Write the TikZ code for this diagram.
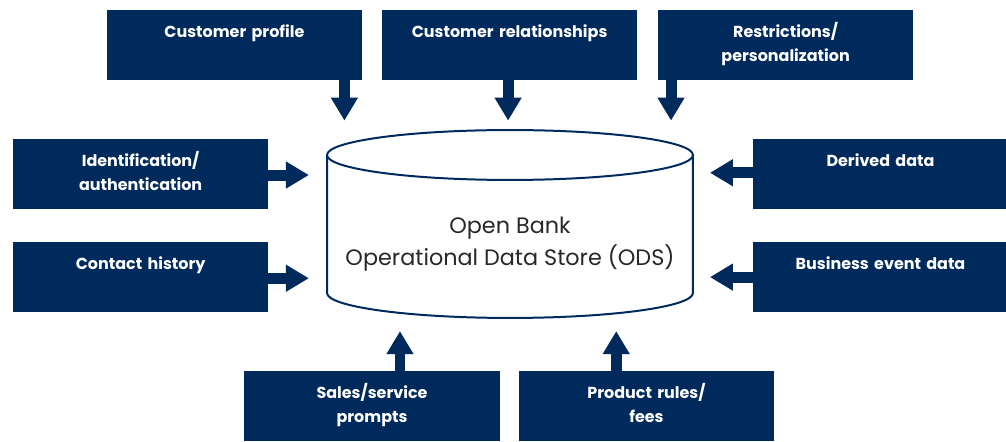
\documentclass[tikz,border=0pt]{standalone}
\usepackage{fontspec}
\setmainfont{Poppins}
\usetikzlibrary{arrows.meta,positioning}

\definecolor{navy}{RGB}{0,42,92}
\definecolor{inkgray}{RGB}{40,40,40}

\begin{document}
\begin{tikzpicture}[
  every node/.style={font=\fontsize{12}{18}\selectfont},
  feedbox/.style={rectangle, fill=navy, text=white, font=\bfseries\fontsize{12}{18}\selectfont,
    minimum width=6.75cm, minimum height=1.85cm, text width=6.5cm, align=center,
    inner ysep=0pt, text height=20.5pt, text depth=32pt},
  feed/.style={navy, line width=8.25pt,
    -{Triangle[width=20.5pt, length=17pt, line width=0pt]}},
  store/.style={draw=navy, line width=1.5pt, fill=white}
]
  \useasboundingbox (0,0) rectangle (26.61,-11.67);

  % data store in the middle
  \draw[store] (8.65,-4.10) -- (8.65,-7.75)
    arc[start angle=180, end angle=360, x radius=4.84cm, y radius=0.66cm]
    -- (18.33,-4.10);
  \draw[store] (13.49,-4.10) ellipse [x radius=4.84cm, y radius=0.66cm];
  \node[text=inkgray, align=center, font=\fontsize{16.8}{24}\selectfont] (ods) at (13.49,-6.45)
    {Open Bank\\Operational Data Store (ODS)};

  % sources, top row
  \node[feedbox] (cprof) at (6.20,-1.19) {Customer profile};
  \node[feedbox] (crel) at (13.48,-1.19) {Customer relationships};
  \node[feedbox] (restr) at (20.78,-1.19) {Restrictions/\\personalization};

  % sources, left and right
  \node[feedbox] (ident) at (3.72,-4.60) {Identification/\\authentication};
  \node[feedbox] (contact) at (3.72,-7.33) {Contact history};
  \node[feedbox] (derived) at (23.29,-4.60) {Derived data};
  \node[feedbox] (bevent) at (23.29,-7.33) {Business event data};

  % sources, bottom row
  \node[feedbox] (sales) at (9.84,-10.74) {Sales/service\\prompts};
  \node[feedbox] (prules) at (17.10,-10.74) {Product rules/\\fees};

  % arrows into the store
  \draw[feed] ([xshift=2.91cm]cprof.south) -- ++(0,-1.06);
  \draw[feed] ([xshift=-0.04cm]crel.south) -- ++(0,-1.06);
  \draw[feed] ([xshift=-3.03cm]restr.south) -- ++(0,-1.06);
  \draw[feed] ([yshift=-0.03cm]ident.east) -- ++(1.06,0);
  \draw[feed] ([yshift=-0.03cm]contact.east) -- ++(1.06,0);
  \draw[feed] ([yshift=0.03cm]derived.west) -- ++(-1.12,0);
  \draw[feed] ([yshift=0.0cm]bevent.west) -- ++(-1.12,0);
  \draw[feed] ([xshift=0.74cm]sales.north) -- ++(0,1.04);
  \draw[feed] ([xshift=-0.80cm]prules.north) -- ++(0,1.04);
\end{tikzpicture}
\end{document}
